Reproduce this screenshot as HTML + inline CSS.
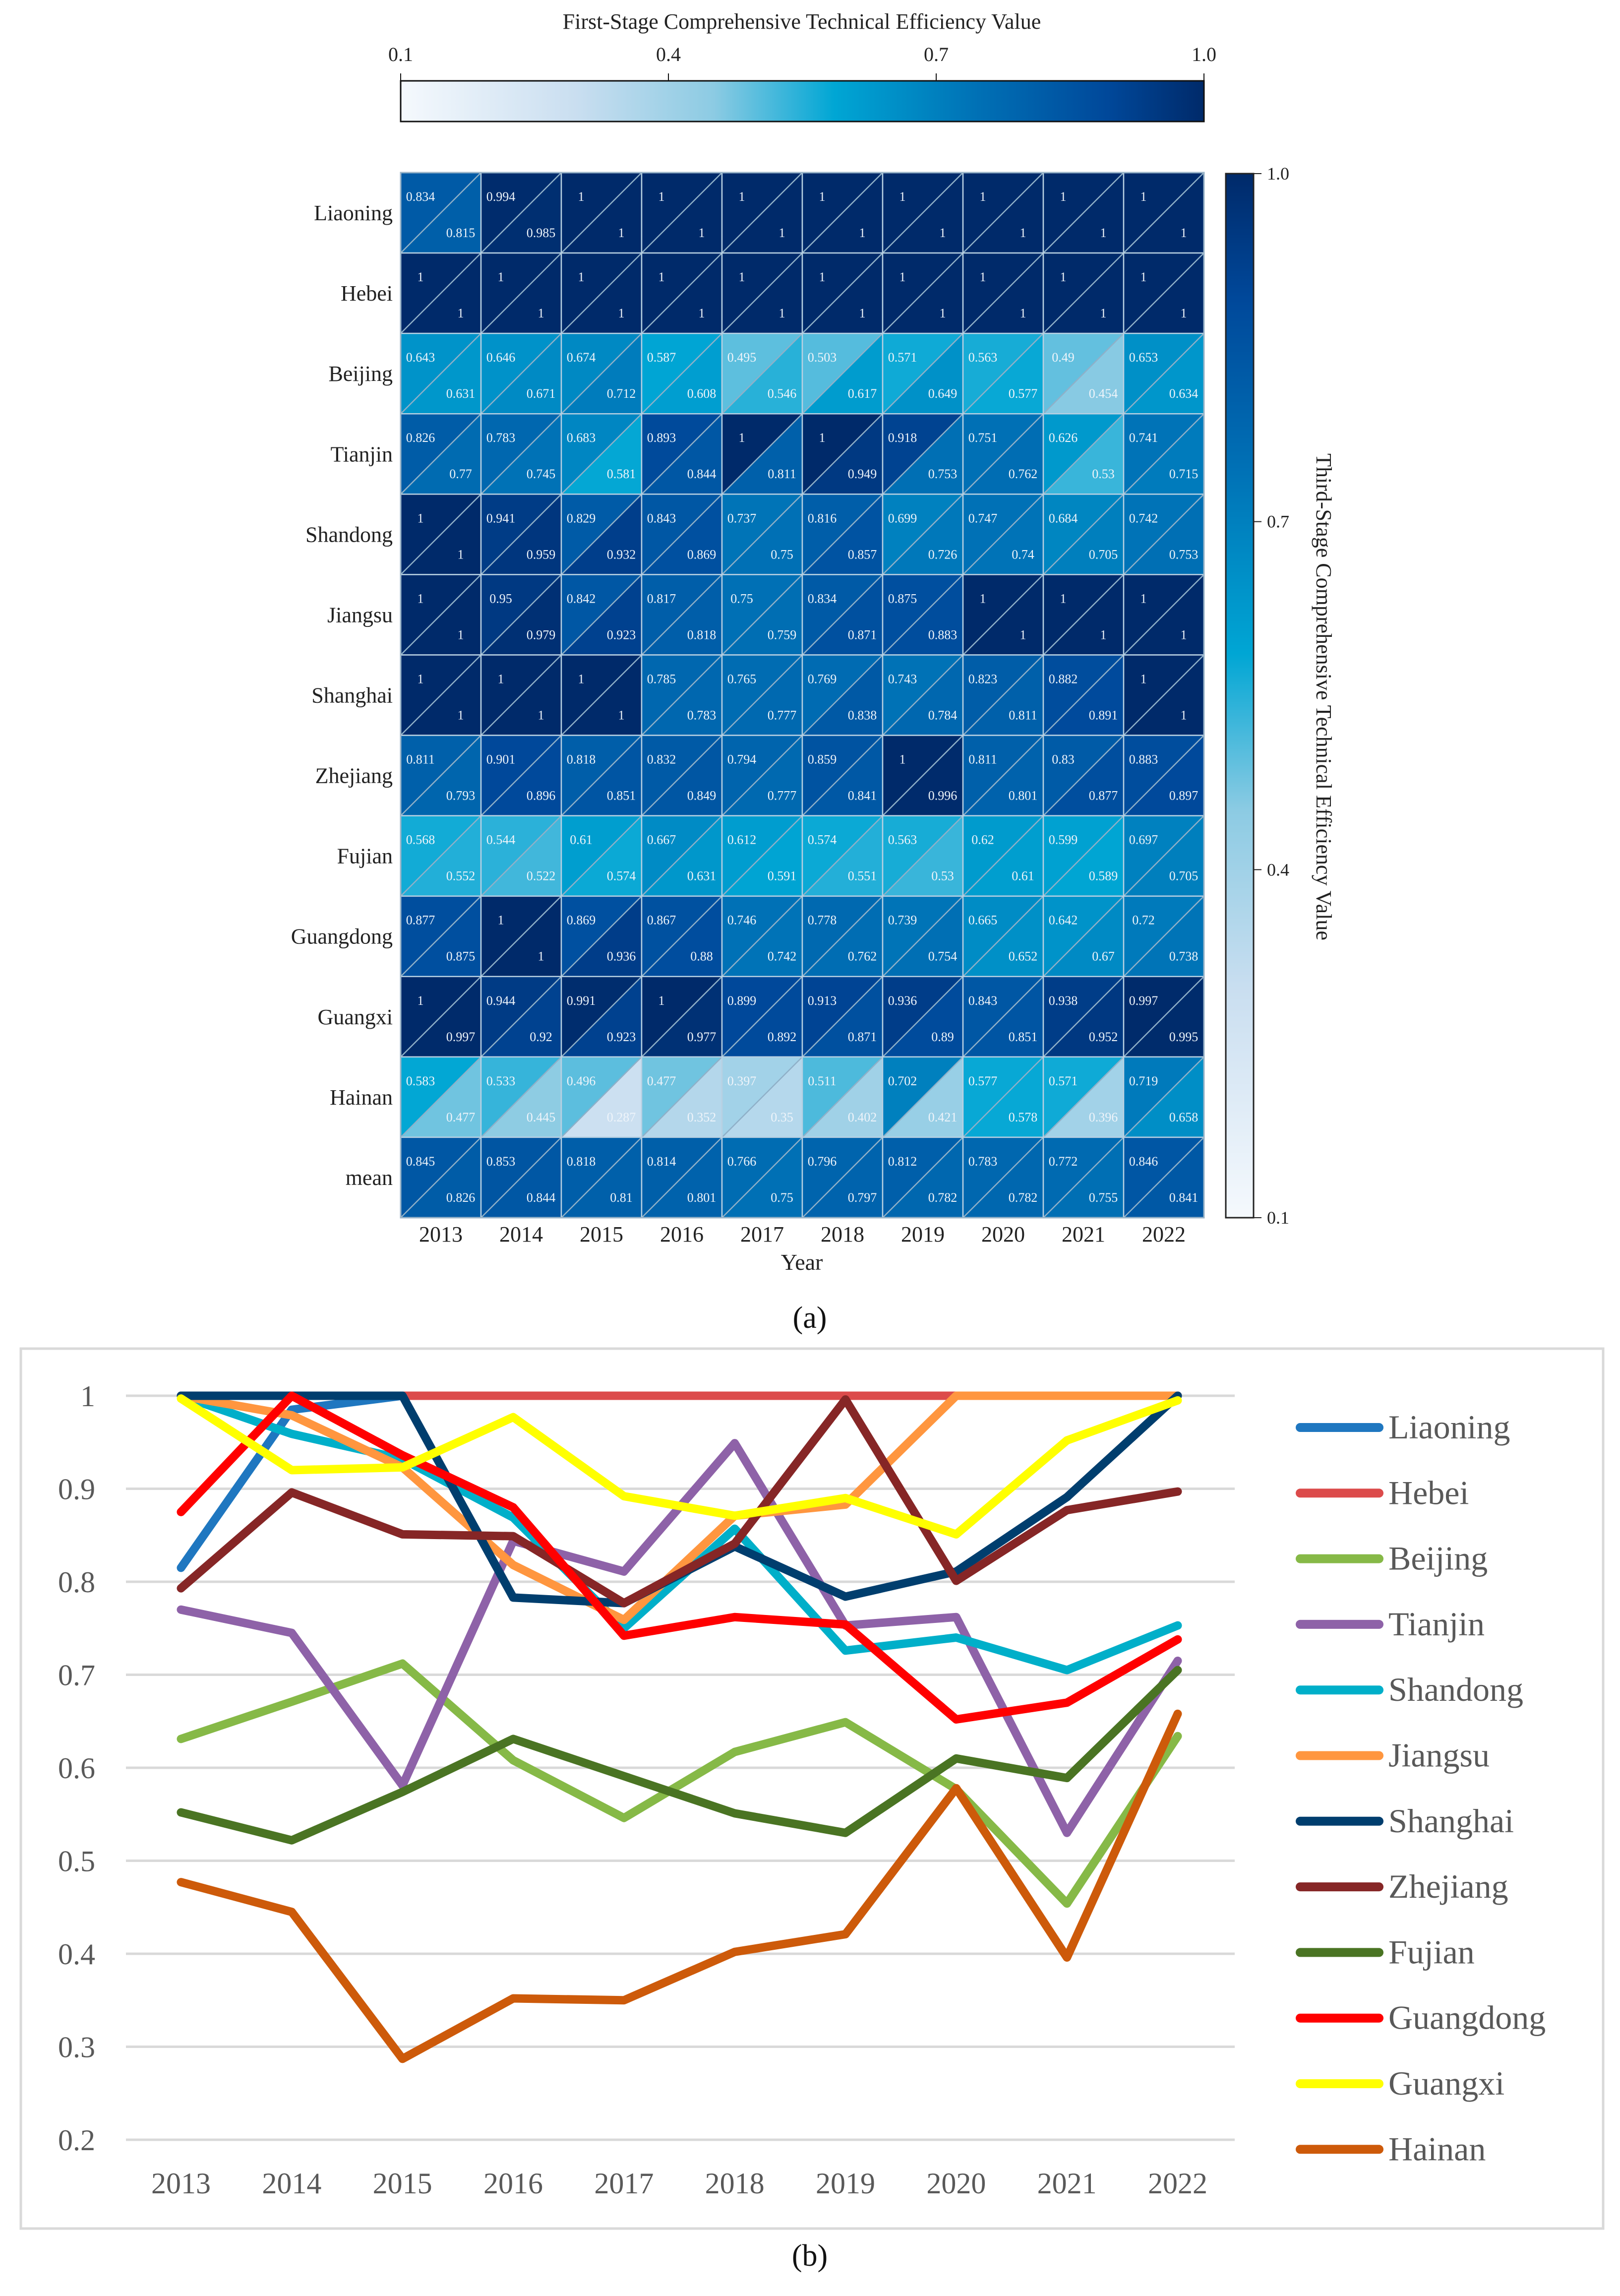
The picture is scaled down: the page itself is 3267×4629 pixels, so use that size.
<!DOCTYPE html>
<html><head><meta charset="utf-8"><style>
html,body{margin:0;padding:0;background:#fff;}
svg{display:block;font-family:"Liberation Serif",serif;}
</style></head><body>
<svg id="fig" width="3267" height="4629" viewBox="0 0 3267 4629" xmlns="http://www.w3.org/2000/svg">
<defs>
<linearGradient id="gh" x1="0" y1="0" x2="1" y2="0">
<stop offset="0" stop-color="#f5f9fd"/><stop offset="0.22" stop-color="#c9def0"/><stop offset="0.39" stop-color="#8ccbe3"/><stop offset="0.54" stop-color="#00a6d4"/><stop offset="0.72" stop-color="#0070b5"/><stop offset="0.88" stop-color="#00489a"/><stop offset="1" stop-color="#002a6a"/>
</linearGradient>
<linearGradient id="gv" x1="0" y1="1" x2="0" y2="0">
<stop offset="0" stop-color="#f5f9fd"/><stop offset="0.22" stop-color="#c9def0"/><stop offset="0.39" stop-color="#8ccbe3"/><stop offset="0.54" stop-color="#00a6d4"/><stop offset="0.72" stop-color="#0070b5"/><stop offset="0.88" stop-color="#00489a"/><stop offset="1" stop-color="#002a6a"/>
</linearGradient>
</defs>
<g id="heat"></g>
<g id="line"></g>
</svg>
<script>
const years = ["2013","2014","2015","2016","2017","2018","2019","2020","2021","2022"];
const regions = ["Liaoning","Hebei","Beijing","Tianjin","Shandong","Jiangsu","Shanghai","Zhejiang","Fujian","Guangdong","Guangxi","Hainan","mean"];
const firstStage = [
[0.834,0.994,1,1,1,1,1,1,1,1],
[1,1,1,1,1,1,1,1,1,1],
[0.643,0.646,0.674,0.587,0.495,0.503,0.571,0.563,0.49,0.653],
[0.826,0.783,0.683,0.893,1,1,0.918,0.751,0.626,0.741],
[1,0.941,0.829,0.843,0.737,0.816,0.699,0.747,0.684,0.742],
[1,0.95,0.842,0.817,0.75,0.834,0.875,1,1,1],
[1,1,1,0.785,0.765,0.769,0.743,0.823,0.882,1],
[0.811,0.901,0.818,0.832,0.794,0.859,1,0.811,0.83,0.883],
[0.568,0.544,0.61,0.667,0.612,0.574,0.563,0.62,0.599,0.697],
[0.877,1,0.869,0.867,0.746,0.778,0.739,0.665,0.642,0.72],
[1,0.944,0.991,1,0.899,0.913,0.936,0.843,0.938,0.997],
[0.583,0.533,0.496,0.477,0.397,0.511,0.702,0.577,0.571,0.719],
[0.845,0.853,0.818,0.814,0.766,0.796,0.812,0.783,0.772,0.846]];
const thirdStage = [
[0.815,0.985,1,1,1,1,1,1,1,1],
[1,1,1,1,1,1,1,1,1,1],
[0.631,0.671,0.712,0.608,0.546,0.617,0.649,0.577,0.454,0.634],
[0.77,0.745,0.581,0.844,0.811,0.949,0.753,0.762,0.53,0.715],
[1,0.959,0.932,0.869,0.75,0.857,0.726,0.74,0.705,0.753],
[1,0.979,0.923,0.818,0.759,0.871,0.883,1,1,1],
[1,1,1,0.783,0.777,0.838,0.784,0.811,0.891,1],
[0.793,0.896,0.851,0.849,0.777,0.841,0.996,0.801,0.877,0.897],
[0.552,0.522,0.574,0.631,0.591,0.551,0.53,0.61,0.589,0.705],
[0.875,1,0.936,0.88,0.742,0.762,0.754,0.652,0.67,0.738],
[0.997,0.92,0.923,0.977,0.892,0.871,0.89,0.851,0.952,0.995],
[0.477,0.445,0.287,0.352,0.35,0.402,0.421,0.578,0.396,0.658],
[0.826,0.844,0.81,0.801,0.75,0.797,0.782,0.782,0.755,0.841]];
const cbTicks = ["0.1","0.4","0.7","1.0"];
const lineSeries = ["Liaoning","Hebei","Beijing","Tianjin","Shandong","Jiangsu","Shanghai","Zhejiang","Fujian","Guangdong","Guangxi","Hainan"];
const lineColors = ["#1f77c0","#dc4b4b","#86b947","#8e62a8","#00afc9","#ff963f","#003e6e","#862626","#4a7423","#ff0000","#ffff00","#cd5a0a"];
const yTicks = ["0.2","0.3","0.4","0.5","0.6","0.7","0.8","0.9","1"];

const NS="http://www.w3.org/2000/svg";
function mk(parent,tag,attrs,text){const e=document.createElementNS(NS,tag);for(const k in attrs)e.setAttribute(k,attrs[k]);if(text!==undefined)e.textContent=text;parent.appendChild(e);return e;}
const stops=[[0.1,[245,249,253]],[0.3,[201,222,240]],[0.45,[140,203,227]],[0.585,[0,166,212]],[0.75,[0,112,181]],[0.9,[0,72,154]],[1.0,[0,42,106]]];
function cmap(v){v=Math.max(0.1,Math.min(1,v));for(let i=0;i<stops.length-1;i++){const a=stops[i],b=stops[i+1];if(v<=b[0]){const t=(v-a[0])/(b[0]-a[0]);const c=a[1].map((x,j)=>Math.round(x+(b[1][j]-x)*t));return`rgb(${c.join(',')})`;}}return'rgb(0,42,106)';}

// ---------- Panel (a) ----------
const H=document.getElementById('heat');
const hx0=808,hx1=2428,hy0=348,hy1=2455;
const cw=(hx1-hx0)/years.length, ch=(hy1-hy0)/regions.length;
const colX=i=>hx0+i*cw, rowY=j=>hy0+j*ch;
let t=mk(H,'text',{x:1617,y:58,'text-anchor':'middle','font-size':44,fill:'#222'},'First-Stage Comprehensive Technical Efficiency Value');


const cbx0=808,cbx1=2428;
let r=mk(H,'rect',{x:cbx0,y:163,width:cbx1-cbx0,height:82,fill:'url(#gh)',stroke:'#111','stroke-width':3});


cbTicks.forEach(s=>{const v=parseFloat(s);const x=cbx0+(v-0.1)/0.9*(cbx1-cbx0);
mk(H,'line',{x1:x,y1:148,x2:x,y2:163,stroke:'#111','stroke-width':2});
const e=mk(H,'text',{x:x,y:123,'text-anchor':'middle','font-size':40,fill:'#222'},s);

});
regions.forEach((reg,j)=>{
 years.forEach((yr,i)=>{
  const x=colX(i),y=rowY(j);
  const g=mk(H,'g',{});
  
  
  mk(g,'polygon',{points:`${x},${y} ${x+cw},${y} ${x},${y+ch}`,fill:cmap(firstStage[j][i])});
  mk(g,'polygon',{points:`${x+cw},${y} ${x+cw},${y+ch} ${x},${y+ch}`,fill:cmap(thirdStage[j][i])});
  mk(g,'line',{x1:x,y1:y+ch,x2:x+cw,y2:y,stroke:'#8fb0c8','stroke-width':2.5});
  mk(g,'rect',{x:x,y:y,width:cw,height:ch,fill:'none',stroke:'#b8d0e2','stroke-width':2.5});
  mk(g,'text',{x:x+40,y:y+57,'text-anchor':'middle','font-size':26,fill:'#eef4fa'},String(firstStage[j][i]));
  mk(g,'text',{x:x+121,y:y+130,'text-anchor':'middle','font-size':26,fill:'#eef4fa'},String(thirdStage[j][i]));
 });
 const e=mk(H,'text',{x:792,y:rowY(j)+ch/2+15,'text-anchor':'end','font-size':44,fill:'#222'},reg);
 
 
});
mk(H,'rect',{x:hx0,y:hy0,width:hx1-hx0,height:hy1-hy0,fill:'none',stroke:'#9ab4c8','stroke-width':3});
years.forEach((yr,i)=>{const e=mk(H,'text',{x:colX(i)+cw/2,y:2503,'text-anchor':'middle','font-size':44,fill:'#222'},yr);

});
t=mk(H,'text',{x:1617,y:2560,'text-anchor':'middle','font-size':46,fill:'#222'},'Year');


r=mk(H,'rect',{x:2472,y:350,width:56,height:2105,fill:'url(#gv)',stroke:'#222','stroke-width':3});


cbTicks.forEach(s=>{const v=parseFloat(s);const y=2455-(v-0.1)/0.9*2105;
mk(H,'line',{x1:2528,y1:y,x2:2544,y2:y,stroke:'#222','stroke-width':2});
const e=mk(H,'text',{x:2555,y:y+12,'font-size':36,fill:'#222'},s);

});
t=mk(H,'text',{x:0,y:0,'text-anchor':'middle','font-size':44,fill:'#222',transform:'translate(2655,1405) rotate(90)'},'Third-Stage Comprehensive Technical Efficiency Value');


t=mk(H,'text',{x:1633,y:2677,'text-anchor':'middle','font-size':62,fill:'#111'},'(a)');



// ---------- Panel (b) ----------
const L=document.getElementById('line');
r=mk(L,'rect',{x:42,y:2719,width:3191,height:1774,fill:'#fff',stroke:'#d9d9d9','stroke-width':5});


const px0=254,px1=2490,yTop=2814,yBot=4314;
const yScale=v=>yBot-(v-0.2)/0.8*(yBot-yTop);
const xScale=i=>365+i*(2375-365)/(years.length-1);
yTicks.forEach(s=>{const y=yScale(parseFloat(s));
const gl=mk(L,'line',{x1:px0,y1:y,x2:px1,y2:y,stroke:'#d9d9d9','stroke-width':5});


const e=mk(L,'text',{x:192,y:y+21,'text-anchor':'end','font-size':60,fill:'#595959'},s);

});
years.forEach((yr,i)=>{const e=mk(L,'text',{x:xScale(i),y:4422,'text-anchor':'middle','font-size':60,fill:'#595959'},yr);

});
lineSeries.forEach((name,k)=>{
 const pts=thirdStage[k].map((v,i)=>`${xScale(i)},${yScale(v)}`).join(' ');
 const p=mk(L,'polyline',{points:pts,fill:'none',stroke:lineColors[k],'stroke-width':17,'stroke-linejoin':'round','stroke-linecap':'round'});
 
 
 const ly=2878+k*132.3;
 const lg=mk(L,'g',{});
 
 
 mk(lg,'line',{x1:2622,y1:ly,x2:2781,y2:ly,stroke:lineColors[k],'stroke-width':18,'stroke-linecap':'round'});
 mk(lg,'text',{x:2800,y:ly+22,'font-size':68,fill:'#595959'},name);
});
t=mk(L,'text',{x:1633,y:4568,'text-anchor':'middle','font-size':62,fill:'#111'},'(b)');


</script>
</body></html>
